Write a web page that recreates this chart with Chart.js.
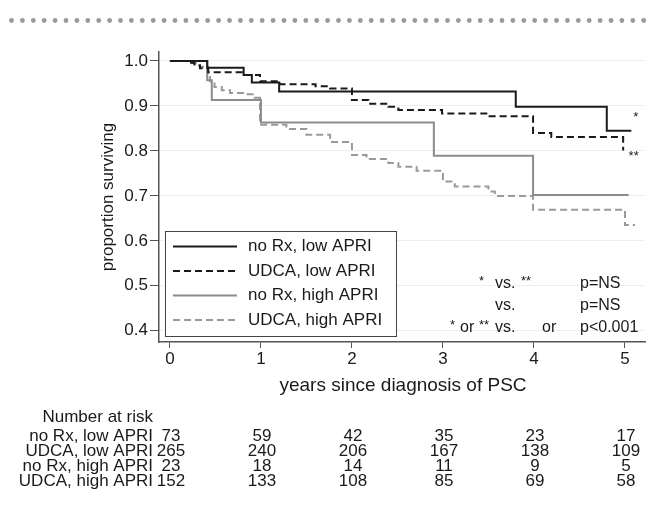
<!DOCTYPE html>
<html>
<head>
<meta charset="utf-8">
<script src="https://cdn.jsdelivr.net/npm/chart.js@4"></script>
<style>
  html, body { margin: 0; padding: 0; background: #fff; }
  #wrap { width: 649px; height: 510px; }
</style>
</head>
<body>
<div id="wrap"><canvas id="kmChart" width="649" height="510"></canvas></div>
<script>
// Kaplan-Meier curves (time in years, proportion surviving)
const years = [0, 1, 2, 3, 4, 5];
const yTicks = [0.4, 0.5, 0.6, 0.7, 0.8, 0.9, 1.0];
const groupNames = ['no Rx, low APRI', 'UDCA, low APRI', 'no Rx, high APRI', 'UDCA, high APRI'];

const noRxLowT = [0, 0.41, 0.81, 0.90, 1.20, 3.80, 4.80, 5.07];
const noRxLowS = [1, 0.985, 0.969, 0.952, 0.932, 0.898, 0.845, 0.845];

const udcaLowT = [0, 0.22, 0.27, 0.33, 0.42, 0.81, 0.99, 1.21, 1.60, 1.76, 2.00, 2.18, 2.40, 2.51, 2.99, 3.50, 3.99, 4.19, 4.98];
const udcaLowS = [1, 0.996, 0.990, 0.984, 0.975, 0.969, 0.955, 0.948, 0.944, 0.939, 0.913, 0.905, 0.898, 0.891, 0.883, 0.877, 0.840, 0.831, 0.801];

const noRxHighT = [0, 0.41, 0.46, 1.00, 2.90, 3.99, 5.04];
const noRxHighS = [1, 0.957, 0.913, 0.863, 0.789, 0.702, 0.702];

const udcaHighT = [0, 0.24, 0.33, 0.42, 0.44, 0.49, 0.57, 0.66, 0.84, 0.93, 0.99, 1.28, 1.50, 1.76, 2.00, 2.16, 2.40, 2.51, 2.71, 3.00, 3.13, 3.50, 3.57, 3.99, 5.00, 5.11];
const udcaHighS = [1, 0.995, 0.987, 0.970, 0.955, 0.942, 0.935, 0.929, 0.926, 0.918, 0.858, 0.849, 0.836, 0.820, 0.791, 0.782, 0.773, 0.765, 0.756, 0.732, 0.721, 0.710, 0.700, 0.669, 0.635, 0.635];

// Number at risk at years 0..5
const atRiskNoRxLow = [73, 59, 42, 35, 23, 17];
const atRiskUdcaLow = [265, 240, 206, 167, 138, 109];
const atRiskNoRxHigh = [23, 18, 14, 11, 9, 5];
const atRiskUdcaHigh = [152, 133, 108, 85, 69, 58];
const atRiskRows = [atRiskNoRxLow, atRiskUdcaLow, atRiskNoRxHigh, atRiskUdcaHigh];

const FONT = "'Liberation Sans', Arial, sans-serif";

function toPoints(t, s) {
    return t.map((v, i) => ({ x: v, y: s[i] }));
}

const styles = [
    { color: '#1a1a1a', dash: [] },
    { color: '#1a1a1a', dash: [7, 4] },
    { color: '#8c8c8c', dash: [] },
    { color: '#9a9a9a', dash: [7, 4] }
];
const series = [
    toPoints(noRxLowT, noRxLowS),
    toPoints(udcaLowT, udcaLowS),
    toPoints(noRxHighT, noRxHighS),
    toPoints(udcaHighT, udcaHighS)
];

// Extra drawing: header dots, axis titles, legend box, p-values, risk table
const extras = {
    id: 'extras',
    afterDraw(chart) {
        const ctx = chart.ctx;
        const xs = chart.scales.x;
        const ys = chart.scales.y;
        ctx.save();

        // dotted rule at top
        ctx.fillStyle = '#9a9a9a';
        for (let x = 11.5; x < 649; x += 10.9) {
            ctx.beginPath();
            ctx.arc(x, 20.5, 2.4, 0, Math.PI * 2);
            ctx.fill();
        }

        ctx.fillStyle = '#1a1a1a';
        ctx.textBaseline = 'middle';

        // y title
        ctx.save();
        ctx.translate(108, 197);
        ctx.rotate(-Math.PI / 2);
        ctx.textAlign = 'center';
        ctx.font = '17px ' + FONT;
        ctx.fillText('proportion surviving', 0, 0);
        ctx.restore();

        // x title
        ctx.textAlign = 'center';
        ctx.font = '19px ' + FONT;
        ctx.fillText('years since diagnosis of PSC', 403, 386);

        // legend
        const lx = 165, ly = 231, lw = 231, lh = 105;
        ctx.fillStyle = '#fff';
        ctx.fillRect(lx, ly, lw, lh);
        ctx.strokeStyle = '#444';
        ctx.lineWidth = 1;
        ctx.strokeRect(lx + 0.5, ly + 0.5, lw, lh);
        ctx.font = '17px ' + FONT;
        ctx.textAlign = 'left';
        chart.data.datasets.forEach((ds, i) => {
            const yy = 246.5 + i * 24.5;
            ctx.strokeStyle = ds.borderColor;
            ctx.lineWidth = ds.borderWidth;
            ctx.setLineDash(ds.borderDash);
            ctx.beginPath();
            ctx.moveTo(173, yy);
            ctx.lineTo(237, yy);
            ctx.stroke();
            ctx.setLineDash([]);
            ctx.fillStyle = '#1a1a1a';
            ctx.fillText(ds.label, 248, yy);
        });

        // p-value notes
        ctx.font = '16px ' + FONT;
        ctx.fillStyle = '#1a1a1a';
        ctx.textAlign = 'left';
        ctx.fillText('vs.', 495, 284);
        ctx.fillText('p=NS', 580, 284);
        ctx.fillText('vs.', 495, 306);
        ctx.fillText('p=NS', 580, 306);
        ctx.fillText('or', 460, 328);
        ctx.fillText('vs.', 495, 328);
        ctx.fillText('or', 542, 328);
        ctx.fillText('p<0.001', 580, 328);
        ctx.font = '13px ' + FONT;
        ctx.fillText('*', 479, 281);
        ctx.fillText('**', 521, 281);
        ctx.fillText('*', 450, 325);
        ctx.fillText('**', 479, 325);

        // marks at curve ends
        ctx.fillText('*', xs.getPixelForValue(5.08) + 1, ys.getPixelForValue(0.875));
        ctx.fillText('**', xs.getPixelForValue(5.04), ys.getPixelForValue(0.788));

        // number at risk table
        ctx.font = '17px ' + FONT;
        ctx.textAlign = 'right';
        ctx.fillText('Number at risk', 153, 417);
        groupNames.forEach((g, i) => {
            const yy = 436 + i * 15;
            ctx.textAlign = 'right';
            ctx.fillText(g, 153, yy);
            ctx.textAlign = 'center';
            atRiskRows[i].forEach((n, j) => {
                ctx.fillText(String(n), xs.getPixelForValue(years[j]) + 1, yy);
            });
        });

        ctx.restore();
    }
};

const ctx = document.getElementById('kmChart').getContext('2d');
new Chart(ctx, {
    type: 'line',
    data: {
        datasets: series.map((pts, i) => ({
            label: groupNames[i],
            data: pts,
            stepped: true,
            borderColor: styles[i].color,
            borderDash: styles[i].dash,
            borderWidth: 2,
            pointRadius: 0,
            fill: false
        }))
    },
    options: {
        responsive: false,
        animation: false,
        layout: { padding: { left: 0, top: 52, right: 4, bottom: 138 } },
        plugins: {
            legend: { display: false },
            tooltip: { enabled: false }
        },
        scales: {
            x: {
                type: 'linear',
                min: -0.12,
                max: 5.22,
                afterBuildTicks: s => { s.ticks = years.map(v => ({ value: v })); },
                afterFit: s => { s.height = 30; },
                grid: { drawOnChartArea: false, tickLength: 6, tickColor: '#555' },
                border: { color: '#555', width: 1.5 },
                ticks: {
                    color: '#1a1a1a',
                    font: { family: FONT, size: 17 },
                    padding: 1,
                    maxRotation: 0
                }
            },
            y: {
                min: 0.375,
                max: 1.02,
                afterBuildTicks: s => { s.ticks = yTicks.map(v => ({ value: v })); },
                afterFit: s => { s.width = 159; },
                grid: { color: '#e8f0f2', tickLength: 9, tickColor: '#555' },
                border: { color: '#555', width: 1.5 },
                ticks: {
                    color: '#1a1a1a',
                    font: { family: FONT, size: 17 },
                    padding: 2,
                    callback: v => v.toFixed(1)
                }
            }
        }
    },
    plugins: [extras]
});
</script>
</body>
</html>
